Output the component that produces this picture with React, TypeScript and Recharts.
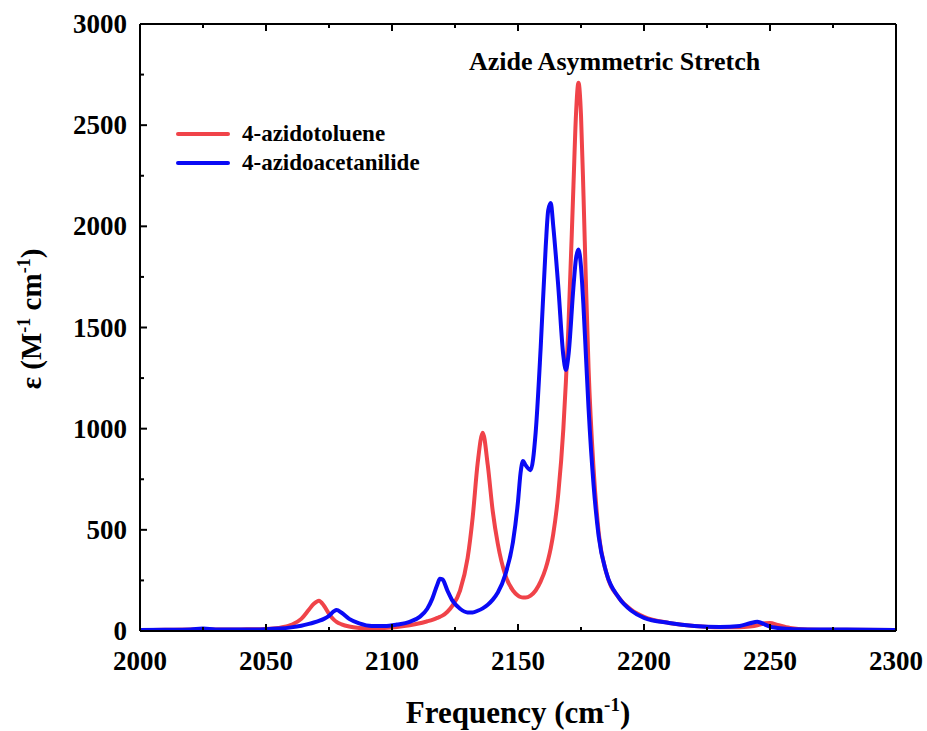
import React from 'react';
import { LineChart, Line, XAxis, YAxis, Legend } from 'recharts';

// frequency grid (cm-1), shared by both spectra
const freq = [
  2000, 2010, 2020, 2025, 2030, 2040, 2050, 2055, 2060, 2064, 2067, 2069, 2071, 2073, 2075, 2077, 2078, 2080,
  2083, 2087, 2092, 2097, 2102, 2107, 2111, 2114, 2116, 2118, 2119, 2120, 2122, 2124, 2127, 2130, 2132, 2134,
  2136, 2138, 2140, 2142, 2145, 2148, 2150, 2151, 2152, 2153, 2155, 2157, 2159, 2161, 2162, 2163, 2164, 2166,
  2168, 2169, 2170, 2172, 2173, 2174, 2175, 2176, 2177, 2178, 2180, 2182, 2185, 2190, 2195, 2200, 2210, 2220,
  2230, 2238, 2242, 2245, 2248, 2250, 2253, 2258, 2265, 2280, 2300,
];

const azidotoluene = [
  5, 6, 7, 8, 7, 8, 10, 15, 30, 60, 105, 135, 150, 125, 85, 55, 45, 33,
  22, 15, 12, 15, 20, 28, 38, 48, 55, 65, 70, 76, 95, 125, 200, 360, 560, 830,
  980, 820, 590, 430, 275, 200, 175, 168, 165, 165, 175, 200, 245, 310, 355, 410, 480, 680,
  1000, 1230, 1500, 2200, 2550, 2710, 2550, 2150, 1700, 1300, 800, 490, 290, 165, 105, 70, 40, 25,
  18, 18, 22, 28, 38, 40, 30, 15, 8, 6, 5,
];

const azidoacetanilide = [
  5, 6, 8, 12, 8, 7, 9, 12, 18, 26, 35, 42, 50, 60, 75, 98, 104, 90,
  60, 38, 25, 25, 32, 45, 70, 110, 160, 230, 258, 255, 200, 150, 110, 92, 92, 100,
  112, 130, 155, 190, 280, 440, 640, 780, 840, 820, 795, 980, 1400, 1900, 2080, 2115, 2000, 1700,
  1360, 1290, 1360, 1700, 1840, 1885, 1800, 1600, 1350, 1100, 720, 470, 290, 165, 100, 65, 40, 25,
  20, 25, 38, 46, 32, 22, 15, 10, 8, 7, 5,
];

const xMajor = [2000, 2050, 2100, 2150, 2200, 2250, 2300];
const xTicks = [2000, 2025, 2050, 2075, 2100, 2125, 2150, 2175, 2200, 2225, 2250, 2275, 2300];
const yMajor = [0, 500, 1000, 1500, 2000, 2500, 3000];
const yTicks = [0, 250, 500, 750, 1000, 1250, 1500, 1750, 2000, 2250, 2500, 2750, 3000];

const RED = '#f04349';
const BLUE = '#0a0af5';
const FONT = '"Liberation Serif", "Times New Roman", serif';

const data = freq.map((f, i) => ({ f, red: azidotoluene[i], blue: azidoacetanilide[i] }));

const labelStyle = { fontFamily: FONT, fontWeight: 700, fontSize: 27 };

// inward ticks, long for major, short for minor; labels only on bottom/left
const makeTick = (side: string, majors: number[], withLabel: boolean) => (props: any) => {
  const { x, y, payload } = props;
  const major = majors.includes(payload.value);
  const len = major ? 7 : 4;
  let line;
  if (side === 'bottom') line = <line x1={x} x2={x} y1={y} y2={y - len} stroke="#000" strokeWidth={2} />;
  else if (side === 'top') line = <line x1={x} x2={x} y1={y} y2={y + len} stroke="#000" strokeWidth={2} />;
  else if (side === 'left') line = <line x1={x} x2={x + len} y1={y} y2={y} stroke="#000" strokeWidth={2} />;
  else line = <line x1={x} x2={x - len} y1={y} y2={y} stroke="#000" strokeWidth={2} />;
  let label = null;
  if (withLabel && major) {
    label = side === 'bottom'
      ? <text x={x} y={y + 39} textAnchor="middle" fill="#000" style={labelStyle}>{payload.value}</text>
      : <text x={x - 13} y={y + 9} textAnchor="end" fill="#000" style={labelStyle}>{payload.value}</text>;
  }
  return <g>{line}{label}</g>;
};

const LegendBox = () => (
  <div style={{ fontFamily: FONT, fontWeight: 700, fontSize: 23, color: '#000' }}>
    {[{ name: '4-azidotoluene', color: RED }, { name: '4-azidoacetanilide', color: BLUE }].map((it) => (
      <div key={it.name} style={{ display: 'flex', alignItems: 'center', height: 29 }}>
        <span style={{ display: 'inline-block', width: 54, height: 4, background: it.color, borderRadius: 2, marginRight: 12 }} />
        {it.name}
      </div>
    ))}
  </div>
);

const YLabel = () => (
  <text x={41} y={319} transform="rotate(-90, 41, 319)" textAnchor="middle"
    style={{ fontFamily: FONT, fontWeight: 700, fontSize: 29 }} fill="#000">
    ε (M<tspan dy={-11} fontSize={18}>-1</tspan><tspan dy={11}> cm</tspan><tspan dy={-11} fontSize={18}>-1</tspan><tspan dy={11}>)</tspan>
  </text>
);

const XLabel = () => (
  <text x={518} y={723} textAnchor="middle"
    style={{ fontFamily: FONT, fontWeight: 700, fontSize: 31 }} fill="#000">
    Frequency (cm<tspan dy={-12} fontSize={19}>-1</tspan><tspan dy={12}>)</tspan>
  </text>
);

const axisLine = { stroke: '#000', strokeWidth: 2 };

export default function App() {
  return (
    <div style={{ position: 'absolute', left: 0, top: 0, width: 927, height: 731, background: '#fff' }}>
      <LineChart width={927} height={731} data={data} margin={{ top: 23, right: 30, bottom: 99, left: 139 }}>
        <XAxis xAxisId="x" dataKey="f" type="number" domain={[2000, 2300]} allowDataOverflow ticks={xTicks}
          height={1} tickSize={0} tickMargin={0} interval={0} tickLine={false} axisLine={axisLine}
          tick={makeTick('bottom', xMajor, true)} label={<XLabel />} />
        <XAxis xAxisId="xt" dataKey="f" type="number" orientation="top" domain={[2000, 2300]} allowDataOverflow
          ticks={xTicks} height={1} tickSize={0} tickMargin={0} interval={0} tickLine={false} axisLine={axisLine}
          tick={makeTick('top', xMajor, false)} />
        <YAxis yAxisId="y" type="number" domain={[0, 3000]} ticks={yTicks} width={1} tickSize={0} tickMargin={0}
          interval={0} tickLine={false} axisLine={axisLine} tick={makeTick('left', yMajor, true)} label={<YLabel />} />
        <YAxis yAxisId="yr" orientation="right" type="number" domain={[0, 3000]} ticks={yTicks} width={1}
          tickSize={0} tickMargin={0} interval={0} tickLine={false} axisLine={axisLine}
          tick={makeTick('right', yMajor, false)} />
        <Line xAxisId="x" yAxisId="y" type="monotone" dataKey="red" name="4-azidotoluene" stroke={RED}
          strokeWidth={4} dot={false} isAnimationActive={false} />
        <Line xAxisId="x" yAxisId="y" type="monotone" dataKey="blue" name="4-azidoacetanilide" stroke={BLUE}
          strokeWidth={4} dot={false} isAnimationActive={false} />
        <Legend content={<LegendBox />} layout="horizontal" verticalAlign="middle" align="center"
          wrapperStyle={{ position: 'absolute', left: 176, top: 119, width: 280 }} />
      </LineChart>
      <div style={{ position: 'absolute', left: 469, top: 47, fontFamily: FONT, fontWeight: 700, fontSize: 26, color: '#000', whiteSpace: 'nowrap' }}>
        Azide Asymmetric Stretch
      </div>
    </div>
  );
}
